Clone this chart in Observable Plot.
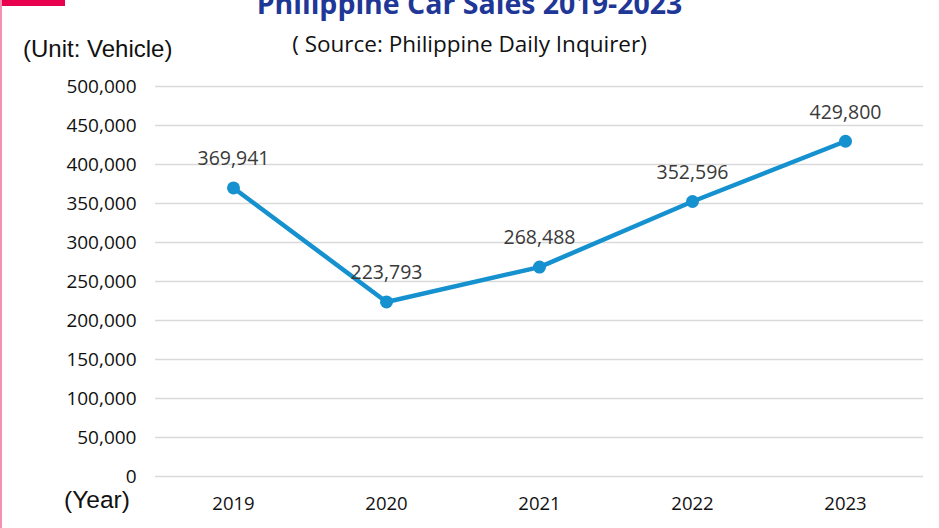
<!DOCTYPE html>
<html><head><meta charset="utf-8">
<script src="https://cdn.jsdelivr.net/npm/d3@7"></script>
<script src="https://cdn.jsdelivr.net/npm/@observablehq/plot@0.6"></script>
<style>
body{margin:0;background:#fff;}
#wrap{position:relative;width:939px;height:528px;overflow:hidden;background:#fff;}
.abs{position:absolute;white-space:nowrap;}
#title{left:0;width:939px;text-align:center;top:-16px;font-family:"Open Sans",sans-serif;font-weight:700;font-size:28.5px;color:#1f3796;}
#sub{left:0;width:939px;text-align:center;top:28px;font-family:"Open Sans",sans-serif;font-size:22.5px;color:#111;}
#unit{left:23px;top:35px;font-family:"Liberation Sans",Arial,sans-serif;font-size:24px;color:#111;}
#year{left:64px;top:486px;font-family:"Liberation Sans",Arial,sans-serif;font-size:24.5px;color:#111;}
#pinkbar{left:0;top:0;width:65px;height:6px;background:#e8004f;}
#pinkline{left:0;top:0;width:2px;height:528px;background:#f48fb5;}
#chart{position:absolute;left:0;top:0;}
</style></head>
<body><div id="wrap">
<div id="chart"></div>
<div class="abs" id="title">Philippine Car Sales 2019-2023</div>
<div class="abs" id="sub">( Source: Philippine Daily Inquirer)</div>
<div class="abs" id="unit">(Unit: Vehicle)</div>
<div class="abs" id="year">(Year)</div>
<div class="abs" id="pinkbar"></div>
<div class="abs" id="pinkline"></div>
</div>
<script>
const years = ["2019","2020","2021","2022","2023"];
const sales = [369941, 223793, 268488, 352596, 429800];
const yTicks = [0,50000,100000,150000,200000,250000,300000,350000,400000,450000,500000];
const data = years.map((y,i)=>({year:y, sales:sales[i]}));
const fmt = d3.format(",");
const chart = Plot.plot({
  width: 939, height: 528,
  marginLeft: 155, marginRight: 16, marginTop: 86, marginBottom: 52,
  style: {fontFamily: "'Open Sans', sans-serif", fontSize: "16px", color: "#111", background: "transparent"},
  x: {type: "point", domain: years, padding: 0.5, label: null, tickSize: 0, tickPadding: 20},
  y: {domain: [0, 500000], ticks: yTicks, tickFormat: fmt, label: null, tickSize: 0, tickPadding: 19},
  marks: [
    Plot.gridY(yTicks, {stroke: "#d9d9d9", strokeOpacity: 1, strokeWidth: 1.5}),
    Plot.axisY(yTicks, {tickFormat: fmt, tickSize: 0, tickPadding: 19, fontSize: 19, label: null}),
    Plot.axisX({tickSize: 0, tickPadding: 20, fontSize: 18.5, label: null}),
    Plot.line(data, {x: "year", y: "sales", stroke: "#1591cf", strokeWidth: 4.5}),
    Plot.dot(data, {x: "year", y: "sales", fill: "#1591cf", r: 6.5}),
    Plot.text(data, {x: "year", y: "sales", text: d => fmt(d.sales), dy: -29, fontSize: 19.5, fill: "#3a3a3a"})
  ]
});
document.getElementById("chart").appendChild(chart);
</script>
</body></html>
